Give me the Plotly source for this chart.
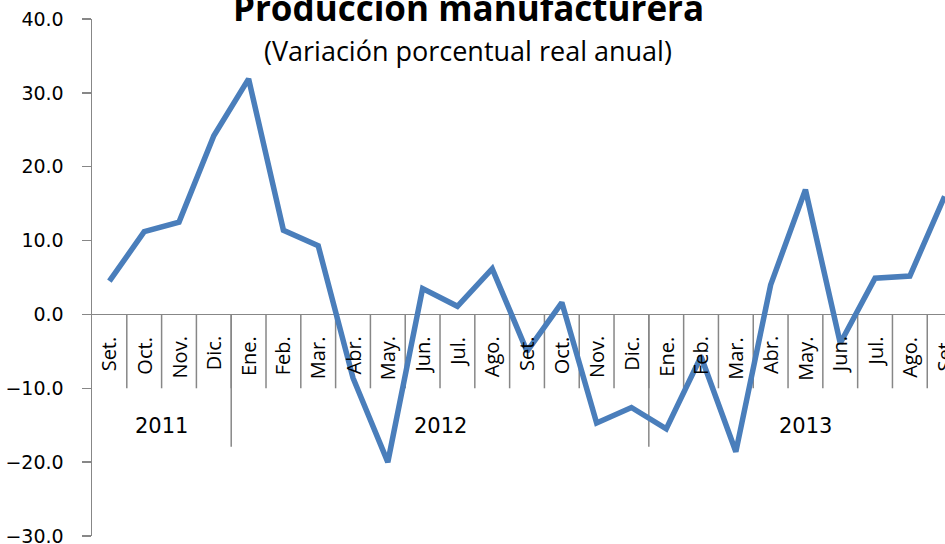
import plotly.graph_objects as go

months = ["Set.", "Oct.", "Nov.", "Dic.",
          "Ene.", "Feb.", "Mar.", "Abr.", "May.", "Jun.", "Jul.", "Ago.", "Set.", "Oct.", "Nov.", "Dic.",
          "Ene.", "Feb.", "Mar.", "Abr.", "May.", "Jun.", "Jul.", "Ago.", "Set."]
years = ["2011", "2012", "2013"]
year_counts = [4, 12, 9]
values = [4.5, 11.2, 12.5, 24.2,
          31.9, 11.4, 9.3, -8.6, -20.0, 3.5, 1.1, 6.2, -5.0, 1.6, -14.7, -12.6,
          -15.5, -5.7, -18.6, 4.0, 16.9, -3.9, 4.9, 5.2, 16.0]
y_ticks = [-30, -20, -10, 0, 10, 20, 30, 40]

title = "Producción manufacturera"
subtitle = "(Variación porcentual real anual)"

LINE_BLUE = "#4A7EBB"
AXIS_GRAY = "#878787"

x_idx = list(range(len(values)))

fig = go.Figure()
fig.add_trace(go.Scatter(x=x_idx, y=values, mode="lines",
                         line=dict(color=LINE_BLUE, width=5.5),
                         hoverinfo="skip", showlegend=False))

annotations = []
shapes = []

# month labels and short separators
for i, m in enumerate(months):
    annotations.append(dict(x=i, y=0, xref="x", yref="y", text=m, showarrow=False,
                            textangle=-90, xanchor="center", yanchor="top", yshift=-20,
                            font=dict(family="Open Sans", size=20, color="black")))
for i in range(1, len(months)):
    shapes.append(dict(type="line", xref="x", yref="y", x0=i - 0.5, x1=i - 0.5, y0=0, y1=-10,
                       line=dict(color=AXIS_GRAY, width=1.5), layer="below"))

# year labels and long separators
start = 0
for k, (yr, n) in enumerate(zip(years, year_counts)):
    center = start + (n - 1) / 2
    annotations.append(dict(x=center, y=-15.1, xref="x", yref="y", text=yr, showarrow=False,
                            xanchor="center", yanchor="middle",
                            font=dict(family="DejaVu Sans", size=21, color="black")))
    if k > 0:
        shapes.append(dict(type="line", xref="x", yref="y", x0=start - 0.5, x1=start - 0.5,
                           y0=0, y1=-17.9, line=dict(color=AXIS_GRAY, width=1.5), layer="below"))
    start += n

annotations.append(dict(x=0.4408, y=1.022, xref="paper", yref="paper", text="<b>" + title + "</b>",
                        showarrow=False, xanchor="center", yanchor="middle",
                        font=dict(family="Open Sans", size=35, color="black")))
annotations.append(dict(x=0.4408, y=0.94, xref="paper", yref="paper", text=subtitle,
                        showarrow=False, xanchor="center", yanchor="middle",
                        font=dict(family="Open Sans", size=27, color="black")))

fig.update_layout(
    width=945, height=544,
    margin=dict(l=92, r=0, t=19, b=8),
    paper_bgcolor="white", plot_bgcolor="white",
    showlegend=False,
    annotations=annotations,
    shapes=shapes,
    xaxis=dict(range=[-0.5, 24.01], showticklabels=False, ticks="", showgrid=False,
               zeroline=False, showline=False, fixedrange=True),
    yaxis=dict(range=[-30, 40], tickvals=y_ticks, tickformat=".1f", showgrid=False,
               zeroline=True, zerolinecolor=AXIS_GRAY, zerolinewidth=1.5,
               showline=True, linecolor=AXIS_GRAY, linewidth=1.5,
               ticks="outside", ticklen=9, tickcolor=AXIS_GRAY, tickwidth=1.5,
               ticklabelstandoff=14, ticklabeloverflow="allow", automargin=False,
               fixedrange=True,
               tickfont=dict(family="DejaVu Sans", size=19, color="black")),
)

fig.write_html("out.html",
               config={"displayModeBar": False, "staticPlot": True},
               post_script="document.body.style.margin='0';document.body.style.overflow='hidden';")
